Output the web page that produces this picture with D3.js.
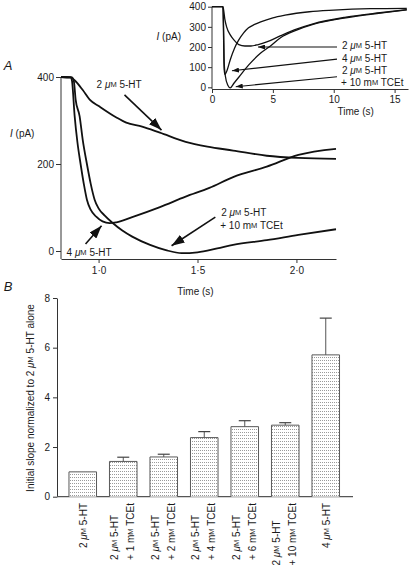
<!DOCTYPE html>
<html><head><meta charset="utf-8">
<script src="https://cdn.jsdelivr.net/npm/d3@7"></script>
<style>
body{margin:0;background:#fff;}
svg{display:block;font-family:"Liberation Sans",Arial,sans-serif;}
text{white-space:pre;fill:#1a1a1a;}
</style></head>
<body>
<svg id="c" width="415" height="574"></svg>
<script>
// ---------- DATA ----------
// Panel A main traces (time s, current pA)
const t2uM = [0.81,0.86,0.88,0.92,0.955,1.005,1.09,1.14,1.22,1.31,1.44,1.55,1.68,1.85,2.01,2.2];
const I2uM = [400,399,392,370,348,332,307,295,286,272,251,240,231,219,214,212];
const t4uM = [0.81,0.86,0.866,0.879,0.893,0.909,0.925,0.941,0.96,0.988,1.02,1.056,1.09,1.17,1.31,1.44,1.56,1.68,1.85,2.01,2.2];
const I4uM = [400,399,390,310,250,200,155,118,95,79,68,64,66,78,101,125,145,170,194,221,235];
const tTCEt = [0.81,0.865,0.875,0.884,0.904,0.92,0.941,0.96,0.98,1.0,1.03,1.07,1.12,1.17,1.26,1.34,1.42,1.5,1.6,1.68,1.85,2.01,2.2];
const ITCEt = [400,399,390,348,310,255,200,155,118,98,82,65,47,33,14,2,-5,-3,6,14,25,37,50];
// Inset traces
const ti2uM = [0,0.9,0.95,1.05,1.2,1.5,1.8,2.2,2.7,3.2,3.8,4.5,5.6,7,8.3,11,13.8,16];
const Ii2uM = [400,400,385,340,300,260,235,212,205,205,212,225,255,290,315,348,370,385];
const ti4uM = [0,0.9,0.95,1.0,1.06,1.2,1.5,1.85,2.2,2.6,3,3.5,4,5,6,8,10,13,16];
const Ii4uM = [400,400,250,90,64,78,137,194,235,270,295,312,325,345,358,375,383,390,392];
const tiTCEt = [0,0.9,0.95,1.0,1.1,1.3,1.5,1.8,2.2,3,4,4.8,5.6,7,8.3,11,13.8,16];
const IiTCEt = [400,400,300,120,55,10,-3,20,50,110,170,205,245,285,312,345,368,384];
// Axis ticks
const mainYTicks = [0,200,400];
const mainXTicks = [1.0,1.5,2.0];
const insetYTicks = [0,100,200,300,400];
const insetXTicks = [0,5,10,15];
const barYTicks = [0,2,4,6,8];
// Panel B
const categories = ["c1","c2","c3","c4","c5","c6","c7"];
const catLines = [["2 μM 5-HT"],["2 μM 5-HT","+ 1 mM TCEt"],["2 μM 5-HT","+ 2 mM TCEt"],["2 μM 5-HT","+ 4 mM TCEt"],["2 μM 5-HT","+ 6 mM TCEt"],["2 μM 5-HT","+ 10 mM TCEt"],["4 μM 5-HT"]];
const slopes = [1.0,1.42,1.6,2.38,2.82,2.88,5.71];
const slopeErr = [0,0.17,0.11,0.24,0.24,0.1,1.48];

// ---------- HELPERS ----------
const svg = d3.select("#c");
function rich(sel, str, small){
  const parts=[]; let buf='';
  for(let i=0;i<str.length;i++){
    const c=str[i];
    if(c==='μ'){ if(buf){parts.push({t:buf});buf='';} parts.push({t:'μ',it:true}); }
    else if(c==='M' && (str[i-1]==='μ'||str[i-1]==='m')){ if(buf){parts.push({t:buf});buf='';} parts.push({t:'M',sm:true}); }
    else buf+=c;
  }
  if(buf) parts.push({t:buf});
  parts.forEach(p=>{const ts=sel.append('tspan').text(p.t); if(p.it) ts.attr('font-style','italic'); if(p.sm) ts.attr('font-size',small);});
  return sel;
}
const zip=(a,b)=>a.map((v,i)=>[v,b[i]]);
const defs = svg.append("defs");
function marker(id,len,wid){
  defs.append("marker").attr("id",id).attr("markerUnits","userSpaceOnUse")
    .attr("markerWidth",len).attr("markerHeight",wid).attr("refX",len).attr("refY",wid/2)
    .attr("orient","auto").append("path").attr("d",`M0,0L${len},${wid/2}L0,${wid}Z`).attr("fill","#111");
}
marker("bigArrow",13,9);
marker("smallArrow",7,5);
const pat = defs.append("pattern").attr("id","dots").attr("patternUnits","userSpaceOnUse").attr("width",2).attr("height",3);
pat.append("rect").attr("width",2).attr("height",3).attr("fill","#fff");
pat.append("rect").attr("width",1).attr("height",1).attr("fill","#9a9a9a");

function styleAxis(g){
  g.selectAll("path,line").attr("stroke","#333").attr("stroke-width",1);
  g.selectAll("text").attr("font-size",10).attr("fill","#1a1a1a").style("font-family","Liberation Sans, Arial, sans-serif");
}
const fmtDot = d=>d3.format(".1f")(d).replace(".","·");

// ---------- PANEL A MAIN ----------
const xA = d3.scaleLinear().domain([0.81,2.2]).range([61,336]);
const yA = d3.scaleLinear().domain([0,400]).range([251,77]);
const gYA = svg.append("g").attr("transform","translate(61,0)")
  .call(d3.axisLeft(yA).tickValues(mainYTicks).tickSize(5).tickSizeOuter(0).tickPadding(2));
gYA.select(".domain").remove();
styleAxis(gYA);
svg.append("line").attr("x1",61).attr("x2",61).attr("y1",yA(400)).attr("y2",259).attr("stroke","#333");
const gXA = svg.append("g").attr("transform","translate(0,259)")
  .call(d3.axisBottom(xA).tickValues(mainXTicks).tickFormat(fmtDot).tickSize(4).tickSizeOuter(0).tickPadding(4));
styleAxis(gXA);

const lineA = d3.line().x(d=>xA(d[0])).y(d=>yA(d[1])).curve(d3.curveMonotoneX);
[[t2uM,I2uM],[t4uM,I4uM],[tTCEt,ITCEt]].forEach(([t,I])=>{
  svg.append("path").attr("d",lineA(zip(t,I))).attr("fill","none").attr("stroke","#111").attr("stroke-width",1.8).attr("stroke-linejoin","round");
});
svg.append("text").attr("x",8).attr("y",65).attr("font-size",13).attr("font-style","italic").attr("text-anchor","middle").attr("dominant-baseline","central").text("A");
const ipa = svg.append("text").attr("x",10).attr("y",133).attr("font-size",10).attr("dominant-baseline","central");
ipa.append("tspan").attr("font-style","italic").text("I");ipa.append("tspan").text(" (pA)");
svg.append("text").attr("x",xA(1.5)-2).attr("y",291).attr("font-size",10).attr("text-anchor","middle").attr("dominant-baseline","central").text("Time (s)");

// main annotations (data coordinates)
const mainArrows = [[1.131,359,1.318,278],[0.934,16,1.015,58],[1.59,78,1.369,12]];
mainArrows.forEach(a=>{
  svg.append("line").attr("x1",xA(a[0])).attr("y1",yA(a[1])).attr("x2",xA(a[2])).attr("y2",yA(a[3]))
    .attr("stroke","#111").attr("stroke-width",1.6).attr("marker-end","url(#bigArrow)");
});
const mainLabels = [[0.99,384,"2 μM 5-HT"],[0.838,-2,"4 μM 5-HT"],[1.62,90,"2 μM 5-HT"],[1.615,60,"+ 10 mM TCEt"]];
mainLabels.forEach(l=>{
  rich(svg.append("text").attr("x",xA(l[0])).attr("y",yA(l[1])).attr("font-size",10).attr("dominant-baseline","central"), l[2], 7.5);
});

// ---------- INSET ----------
const xI = d3.scaleLinear().domain([0,16.1]).range([212,408]);
const yI = d3.scaleLinear().domain([0,400]).range([87.3,6.7]);
const gYI = svg.append("g").attr("transform","translate(212,0)")
  .call(d3.axisLeft(yI).tickValues(insetYTicks).tickSize(4).tickSizeOuter(0).tickPadding(2));
gYI.select(".domain").remove();
styleAxis(gYI);
svg.append("line").attr("x1",212).attr("x2",212).attr("y1",yI(400)).attr("y2",89).attr("stroke","#333");
const gXI = svg.append("g").attr("transform","translate(0,89)")
  .call(d3.axisBottom(xI).tickValues(insetXTicks).tickSize(4).tickSizeOuter(0).tickPadding(3));
styleAxis(gXI);
const lineI = d3.line().x(d=>xI(d[0])).y(d=>yI(d[1])).curve(d3.curveMonotoneX);
[[ti2uM,Ii2uM],[ti4uM,Ii4uM],[tiTCEt,IiTCEt]].forEach(([t,I])=>{
  svg.append("path").attr("d",lineI(zip(t,I))).attr("fill","none").attr("stroke","#111").attr("stroke-width",1.3).attr("stroke-linejoin","round");
});
const ipa2 = svg.append("text").attr("x",181).attr("y",36).attr("font-size",10).attr("text-anchor","end").attr("dominant-baseline","central");
ipa2.append("tspan").attr("font-style","italic").text("I");ipa2.append("tspan").text(" (pA)");
svg.append("text").attr("x",xI(11.8)).attr("y",111).attr("font-size",10).attr("text-anchor","middle").attr("dominant-baseline","central").text("Time (s)");
const insetArrows = [[10.27,200,3.78,200],[10.27,140,1.64,82],[10.27,52,1.95,3]];
insetArrows.forEach(a=>{
  svg.append("line").attr("x1",xI(a[0])).attr("y1",yI(a[1])).attr("x2",xI(a[2])).attr("y2",yI(a[3]))
    .attr("stroke","#111").attr("stroke-width",1.1).attr("marker-end","url(#smallArrow)");
});
const insetLabels = [[10.68,210,"2 μM 5-HT"],[10.68,145,"4 μM 5-HT"],[10.68,85,"2 μM 5-HT"],[10.6,24,"+ 10 mM TCEt"]];
insetLabels.forEach(l=>{
  rich(svg.append("text").attr("x",xI(l[0])).attr("y",yI(l[1])).attr("font-size",10).attr("dominant-baseline","central"), l[2], 7.5);
});

// ---------- PANEL B ----------
const xB = d3.scaleBand().domain(categories).range([62.5,346]).paddingInner(0.32).paddingOuter(0.16);
const yB = d3.scaleLinear().domain([0,8]).range([496.7,298]);
const gYB = svg.append("g").attr("transform","translate(57,0)")
  .call(d3.axisLeft(yB).tickValues(barYTicks).tickSize(4).tickSizeOuter(0).tickPadding(3));
styleAxis(gYB);
svg.append("line").attr("x1",57).attr("x2",353).attr("y1",yB(0)).attr("y2",yB(0)).attr("stroke","#555").attr("stroke-width",1.2);
svg.append("text").attr("x",8).attr("y",286).attr("font-size",13).attr("font-style","italic").attr("text-anchor","middle").attr("dominant-baseline","central").text("B");
rich(svg.append("text").attr("transform","translate(30,398) rotate(-90)").attr("font-size",10).attr("text-anchor","middle").attr("dominant-baseline","central"),"Initial slope normalized to 2 μM 5-HT alone",7.5);

categories.forEach((c,i)=>{
  const x0=xB(c), bw=xB.bandwidth(), top=yB(slopes[i]), base=yB(0);
  svg.append("rect").attr("x",x0).attr("y",top).attr("width",bw).attr("height",base-top).attr("fill","url(#dots)");
  svg.append("path").attr("d",`M${x0},${base}V${top}H${x0+bw}V${base}`).attr("fill","none").attr("stroke","#5a5a5a").attr("stroke-width",1);
  if(slopeErr[i]>0){
    const cx=x0+bw/2, ye=yB(slopes[i]+slopeErr[i]);
    svg.append("line").attr("x1",cx).attr("x2",cx).attr("y1",top).attr("y2",ye).attr("stroke","#555").attr("stroke-width",1);
    svg.append("line").attr("x1",cx-6).attr("x2",cx+6).attr("y1",ye).attr("y2",ye).attr("stroke","#444").attr("stroke-width",1.2);
  }
  // category label
  const cx = x0+bw/2;
  const lines = catLines[i];
  const offs = lines.length===1?[0]:[-9,7];
  const texts = lines.map((ln,k)=>rich(svg.append("text").attr("font-size",10).attr("dominant-baseline","central"),ln,7.5));
  const maxLen = d3.max(texts,t=>t.node().getComputedTextLength());
  const yStart = 503+maxLen;
  texts.forEach((t,k)=>t.attr("transform",`translate(${cx+offs[k]},${yStart}) rotate(-90)`));
});
</script>
</body></html>
